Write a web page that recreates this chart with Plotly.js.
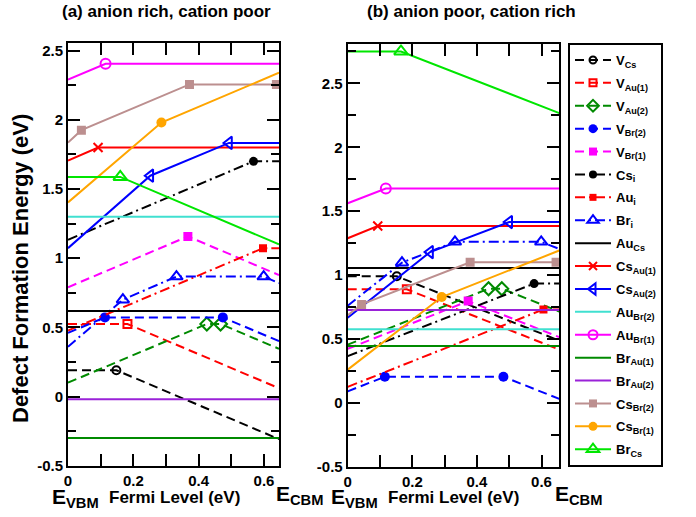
<!DOCTYPE html>
<html><head><meta charset="utf-8">
<script src="https://cdn.plot.ly/plotly-3.0.1.min.js"></script>
<style>html,body{margin:0;padding:0;background:#fff}#chart{width:696px;height:517px}</style>
</head><body><div id="chart"></div>
<script>
// ---------- DATA: [x (eV above VBM), formation energy (eV), marker shown (1/0)] ----------
// Panel (a): anion rich, cation poor
const VCs_a   = [[0,0.19,0],[0.148,0.19,1],[0.646,-0.308,0]];
const VAu1_a  = [[0,0.524,0],[0.182,0.524,1],[0.646,0.06,0]];
const VAu2_a  = [[0,0.10,0],[0.425,0.524,1],[0.467,0.524,1],[0.646,0.345,0]];
const VBr2_a  = [[0,0.46,0],[0.113,0.572,1],[0.474,0.572,1],[0.646,0.40,0]];
const VBr1_a  = [[0,0.79,0],[0.367,1.157,1],[0.646,0.878,0]];
const Csi_a   = [[0,1.133,0],[0.568,1.70,1],[0.646,1.70,0]];
const Aui_a   = [[0,0.477,0],[0.597,1.072,1],[0.646,1.072,0]];
const Bri_a   = [[0,0.36,0],[0.168,0.70,1],[0.332,0.867,1],[0.599,0.867,1],[0.646,0.82,0]];
const AuCs_a  = [[0,0.618,0],[0.646,0.618,0]];
const CsAu1_a = [[0,1.705,0],[0.092,1.80,1],[0.646,1.80,0]];
const CsAu2_a = [[0,1.072,0],[0.252,1.596,1],[0.493,1.833,1],[0.646,1.833,0]];
const AuBr2_a = [[0,1.30,0],[0.646,1.30,0]];
const AuBr1_a = [[0,2.29,0],[0.115,2.405,1],[0.646,2.405,0]];
const BrAu1_a = [[0,-0.30,0],[0.646,-0.30,0]];
const BrAu2_a = [[0,-0.02,0],[0.646,-0.02,0]];
const CsBr2_a = [[0,1.835,0],[0.041,1.925,1],[0.372,2.256,1],[0.638,2.256,1]];
const CsBr1_a = [[0,1.403,0],[0.286,1.98,1],[0.646,2.34,0]];
const BrCs_a  = [[0,1.587,0],[0.16,1.587,1],[0.646,1.10,0]];
// Panel (b): anion poor, cation rich
const VCs_b   = [[0,0.99,0],[0.152,0.99,1],[0.655,0.487,0]];
const VAu1_b  = [[0,0.888,0],[0.183,0.888,1],[0.655,0.416,0]];
const VAu2_b  = [[0,0.455,0],[0.436,0.893,1],[0.477,0.893,1],[0.655,0.715,0]];
const VBr2_b  = [[0,0.09,0],[0.115,0.204,1],[0.482,0.204,1],[0.655,0.031,0]];
const VBr1_b  = [[0,0.423,0],[0.373,0.796,1],[0.655,0.514,0]];
const Csi_b   = [[0,0.365,0],[0.577,0.933,1],[0.655,0.933,0]];
const Aui_b   = [[0,0.125,0],[0.606,0.731,1],[0.655,0.731,0]];
const Bri_b   = [[0,0.76,0],[0.168,1.097,1],[0.332,1.26,1],[0.599,1.26,1],[0.655,1.204,0]];
const AuCs_b  = [[0,1.055,0],[0.655,1.055,0]];
const CsAu1_b = [[0,1.288,0],[0.093,1.384,1],[0.655,1.384,0]];
const CsAu2_b = [[0,0.666,0],[0.255,1.18,1],[0.50,1.415,1],[0.655,1.415,0]];
const AuBr2_b = [[0,0.575,0],[0.655,0.575,0]];
const AuBr1_b = [[0,1.562,0],[0.118,1.677,1],[0.655,1.677,0]];
const BrAu1_b = [[0,0.445,0],[0.655,0.445,0]];
const BrAu2_b = [[0,0.726,0],[0.655,0.726,0]];
const CsBr2_b = [[0,0.685,0],[0.043,0.77,1],[0.379,1.10,1],[0.645,1.10,1]];
const CsBr1_b = [[0,0.26,0],[0.291,0.828,1],[0.655,1.192,0]];
const BrCs_b  = [[0,2.75,0],[0.165,2.75,1],[0.655,2.267,0]];

const defectKeys = ['VCs','VAu1','VAu2','VBr2','VBr1','Csi','Aui','Bri','AuCs','CsAu1','CsAu2','AuBr2','AuBr1','BrAu1','BrAu2','CsBr2','CsBr1','BrCs'];
const defectLabels = ['V<sub>Cs</sub>','V<sub>Au(1)</sub>','V<sub>Au(2)</sub>','V<sub>Br(2)</sub>','V<sub>Br(1)</sub>',
  'Cs<sub>i</sub>','Au<sub>i</sub>','Br<sub>i</sub>','Au<sub>Cs</sub>','Cs<sub>Au(1)</sub>','Cs<sub>Au(2)</sub>',
  'Au<sub>Br(2)</sub>','Au<sub>Br(1)</sub>','Br<sub>Au(1)</sub>','Br<sub>Au(2)</sub>','Cs<sub>Br(2)</sub>','Cs<sub>Br(1)</sub>','Br<sub>Cs</sub>'];
const panelA = [VCs_a,VAu1_a,VAu2_a,VBr2_a,VBr1_a,Csi_a,Aui_a,Bri_a,AuCs_a,CsAu1_a,CsAu2_a,AuBr2_a,AuBr1_a,BrAu1_a,BrAu2_a,CsBr2_a,CsBr1_a,BrCs_a];
const panelB = [VCs_b,VAu1_b,VAu2_b,VBr2_b,VBr1_b,Csi_b,Aui_b,Bri_b,AuCs_b,CsAu1_b,CsAu2_b,AuBr2_b,AuBr1_b,BrAu1_b,BrAu2_b,CsBr2_b,CsBr1_b,BrCs_b];

const xTickVals = [0,0.1,0.2,0.3,0.4,0.5,0.6];
const xTickText = ['0','','0.2','','0.4','','0.6'];
const yTickVals = [-0.5,0,0.5,1,1.5,2,2.5];
const yTickText = ['-0.5','0','0.5','1','1.5','2','2.5'];
const yMinorVals = [-0.25,0.25,0.75,1.25,1.75,2.25,2.75];

// ---------- STYLES ----------
const DASH = '9px,5px';
const DASHDOT = '10px,4px,2px,4px';
const styles = {
  VCs:  {c:'#000000', d:DASH,    s:'circle-open',   z:8,  f:false},
  VAu1: {c:'#ff0000', d:DASH,    s:'square-open',   z:8,  f:false},
  VAu2: {c:'#008a00', d:DASH,    s:'diamond-open',  z:10, f:false},
  VBr2: {c:'#0000ff', d:DASH,    s:'circle',        z:10, f:true},
  VBr1: {c:'#ff00ff', d:DASH,    s:'square',        z:9,  f:true},
  Csi:  {c:'#000000', d:DASHDOT, s:'circle',        z:9,  f:true},
  Aui:  {c:'#ff0000', d:DASHDOT, s:'square',        z:8,  f:true},
  Bri:  {c:'#0000ff', d:DASHDOT, s:'triangle-up-open', z:11, f:false},
  AuCs: {c:'#000000', d:'solid', s:null},
  CsAu1:{c:'#ff0000', d:'solid', s:'x-thin-open',   z:9,  f:false},
  CsAu2:{c:'#0000ff', d:'solid', s:'triangle-left-open', z:11, f:false},
  AuBr2:{c:'#40e0d0', d:'solid', s:null},
  AuBr1:{c:'#ff00ff', d:'solid', s:'circle-open',   z:10, f:false},
  BrAu1:{c:'#008a00', d:'solid', s:null},
  BrAu2:{c:'#9a22d8', d:'solid', s:null},
  CsBr2:{c:'#bc8f8f', d:'solid', s:'square',        z:9,  f:true},
  CsBr1:{c:'#ffa500', d:'solid', s:'circle',        z:10, f:true},
  BrCs: {c:'#00e600', d:'solid', s:'triangle-up-open', z:12, f:false}
};

const FONT = 'Liberation Sans, Arial, Helvetica, sans-serif';
const traces = [];
function addPanel(panel, xa, ya) {
  defectKeys.forEach((k, i) => {
    const st = styles[k];
    const pts = panel[i];
    const tr = {
      x: pts.map(p => p[0]), y: pts.map(p => p[1]),
      xaxis: xa, yaxis: ya, showlegend: false, hoverinfo: 'skip',
      mode: st.s ? 'lines+markers' : 'lines',
      line: {color: st.c, width: 2, dash: st.d}
    };
    if (st.s) {
      tr.marker = {symbol: st.s, size: st.z, color: st.c,
        opacity: pts.map(p => p[2] ? 1 : 0),
        line: {color: st.c, width: st.f ? 0 : 2}};
    }
    traces.push(tr);
  });
}
addPanel(panelA, 'x', 'y');
addPanel(panelB, 'x2', 'y2');
// legend entries
defectKeys.forEach((k, i) => {
  const st = styles[k];
  const tr = {x: [null], y: [null], xaxis: 'x2', yaxis: 'y2', name: defectLabels[i],
    legendgroup: k, showlegend: true, hoverinfo: 'skip',
    mode: st.s ? 'lines+markers' : 'lines',
    line: {color: st.c, width: 2, dash: st.d}};
  if (st.s) tr.marker = {symbol: st.s, size: st.z - 1, color: st.c, line: {color: st.c, width: st.f ? 0 : 2}};
  traces.push(tr);
});

const W = 696, H = 517;
const px = v => v / W, py = v => (H - v) / H;
const tickfont = {family: FONT, size: 15, color: '#000', weight: 'bold'};
function xAxis(domain, range, anchor) {
  return {domain, range, anchor, tickvals: xTickVals, ticktext: xTickText, ticks: 'inside', ticklen: 12, tickwidth: 2,
    tickcolor: '#000', showline: true, linewidth: 2, linecolor: '#000', mirror: 'ticks', showgrid: false, zeroline: false,
    tickfont, fixedrange: true};
}
function yAxis(domain, range, anchor) {
  return {domain, range, anchor, tickvals: yTickVals, ticktext: yTickText, ticks: 'inside', ticklen: 12, tickwidth: 2,
    tickcolor: '#000', showline: true, linewidth: 2, linecolor: '#000', mirror: 'ticks', showgrid: false, zeroline: false,
    minor: {tickvals: yMinorVals, ticks: 'inside', ticklen: 8, tickwidth: 2, tickcolor: '#000', showgrid: false},
    tickfont, fixedrange: true};
}
function ann(text, x, y, size, opts) {
  return Object.assign({text: '<b>' + text + '</b>', x: px(x), y: py(y), xref: 'paper', yref: 'paper', showarrow: false,
    font: {family: FONT, size, color: '#000'}, xanchor: 'center', yanchor: 'middle'}, opts || {});
}
const layout = {
  width: W, height: H, margin: {l: 0, r: 0, t: 0, b: 0},
  paper_bgcolor: '#fff', plot_bgcolor: '#fff', showlegend: true,
  xaxis: xAxis([px(68), px(279)], [0, 0.646], 'y'),
  yaxis: yAxis([py(465.7), py(43.3)], [-0.5, 2.553], 'x'),
  xaxis2: xAxis([px(347.7), px(559.3)], [0, 0.655], 'y2'),
  yaxis2: yAxis([py(466.7), py(44.3)], [-0.5, 2.806], 'x2'),
  legend: {x: px(568), y: py(43), xanchor: 'left', yanchor: 'top', bordercolor: '#000', borderwidth: 2, bgcolor: '#fff',
    font: {family: FONT, size: 13, color: '#000', weight: 'bold'}, traceorder: 'grouped', tracegroupgap: 3, itemwidth: 36},
  annotations: [
    ann('(a) anion rich, cation poor', 166, 12, 17),
    ann('(b) anion poor, cation rich', 471, 12, 17),
    ann('Defect Formation Energy (eV)', 20, 269, 22, {textangle: -90}),
    ann('Fermi Level (eV)', 174, 497, 17),
    ann('Fermi Level (eV)', 453, 497, 17),
    ann('E<sub>VBM</sub>', 50, 498, 21, {xanchor: 'left'}),
    ann('E<sub>CBM</sub>', 274, 495, 21, {xanchor: 'left'}),
    ann('E<sub>VBM</sub>', 329, 498, 21, {xanchor: 'left'}),
    ann('E<sub>CBM</sub>', 553, 495, 21, {xanchor: 'left'})
  ]
};
Plotly.newPlot('chart', traces, layout, {displayModeBar: false, staticPlot: true});
</script>
</body></html>
